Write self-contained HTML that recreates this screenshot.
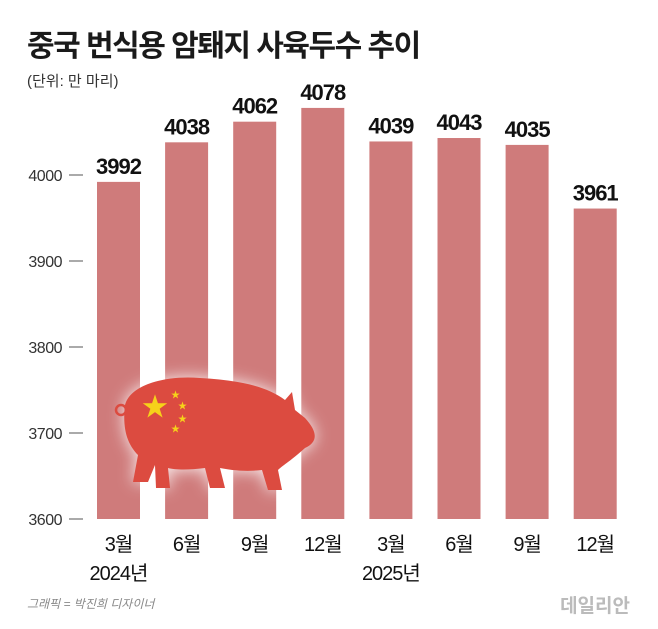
<!DOCTYPE html>
<html><head><meta charset="utf-8"><style>
body{margin:0;background:#fff;}
svg{display:block;font-family:"Liberation Sans","Noto Sans CJK KR",sans-serif;}
</style></head><body>
<svg width="658" height="629" viewBox="0 0 658 629">
<defs>
<filter id="glow" x="-30%" y="-30%" width="160%" height="160%"><feGaussianBlur stdDeviation="8"/></filter>
</defs>
<text x="27" y="56" font-size="30" font-weight="bold" fill="#1a1a1a" letter-spacing="-1.5">중국 번식용 암퇘지 사육두수 추이</text>
<text x="27" y="86" font-size="15" fill="#333">(단위: 만 마리)</text>
<g id="axis"></g>
<g id="bars"></g>
<g>
<path d="M125,405 C130,385 165,375 200,378 C235,380 265,385 285,400 L292,392 L295,410 L305,418 C318,432 318,442 305,448 C292,460 283,465 278,470 L282,490 L268,490 L262,470 C245,472 230,470 220,468 L225,488 L210,488 L205,468 C190,470 175,470 168,468 L170,488 L156,488 L155,465 L148,482 L133,482 L138,455 C128,445 122,430 125,405 Z" fill="#ffffff" filter="url(#glow)" opacity="0.9"/>
<path d="M125,405 C130,385 165,375 200,378 C235,380 265,385 285,400 L292,392 L295,410 L305,418 C318,432 318,442 305,448 C292,460 283,465 278,470 L282,490 L268,490 L262,470 C245,472 230,470 220,468 L225,488 L210,488 L205,468 C190,470 175,470 168,468 L170,488 L156,488 L155,465 L148,482 L133,482 L138,455 C128,445 122,430 125,405 Z" fill="#dc4b40"/>
<circle cx="121" cy="410" r="5" fill="none" stroke="#dc4b40" stroke-width="2.5"/>
<text x="142" y="416" font-size="26" fill="#f6d21a">★</text>
<text x="171" y="398" font-size="9" fill="#f6d21a">★</text>
<text x="178" y="409" font-size="9" fill="#f6d21a">★</text>
<text x="178" y="422" font-size="9" fill="#f6d21a">★</text>
<text x="171" y="432" font-size="9" fill="#f6d21a">★</text>
</g>
<text x="27" y="608" font-size="12" fill="#888" font-style="italic">그래픽 = 박진희 디자이너</text>
<text x="630" y="612" font-size="19" fill="#bbb" text-anchor="end" font-weight="bold">데일리안</text>
<script>
var categories=["3월","6월","9월","12월","3월","6월","9월","12월"];
var values=[3992,4038,4062,4078,4039,4043,4035,3961];
var yTicks=[3600,3700,3800,3900,4000];
var years=[["2024년",0],["2025년",4]];
function y(v){return 519-(v-3600)*0.86;}
function x(i){return 97+i*68.1;}
var ns="http://www.w3.org/2000/svg";
var bars=document.getElementById('bars'),axis=document.getElementById('axis');
function mk(tag,attrs,parent,txt){var e=document.createElementNS(ns,tag);for(var k in attrs)e.setAttribute(k,attrs[k]);if(txt!==undefined)e.textContent=txt;parent.appendChild(e);return e;}
yTicks.forEach(function(t){
 var l=mk('text',{x:62,y:y(t)+6,'font-size':16,fill:'#333','text-anchor':'end','letter-spacing':'-0.5'},axis,t);
 
 
 var ln=mk('line',{x1:69,x2:83,y1:y(t),y2:y(t),stroke:'#555','stroke-width':1},axis);
 
 
});
values.forEach(function(v,i){
 var r=mk('rect',{x:x(i),y:y(v),width:43,height:519-y(v),fill:'#cf7b7b'},bars);
 
 
 var t=mk('text',{x:x(i)+21.5,y:y(v)-8,'font-size':22,'font-weight':'bold',fill:'#111','text-anchor':'middle','letter-spacing':'-1'},bars,v);
 
 
 var c=mk('text',{x:x(i)+21.5,y:551,'font-size':20,fill:'#111','text-anchor':'middle','letter-spacing':'-1'},bars,categories[i]);
 
 
});
years.forEach(function(yr){
 var t=mk('text',{x:x(yr[1])+21.5,y:580,'font-size':20,fill:'#111','text-anchor':'middle','letter-spacing':'-1'},bars,yr[0]);
 
 
});
</script>
</svg>
</body></html>
